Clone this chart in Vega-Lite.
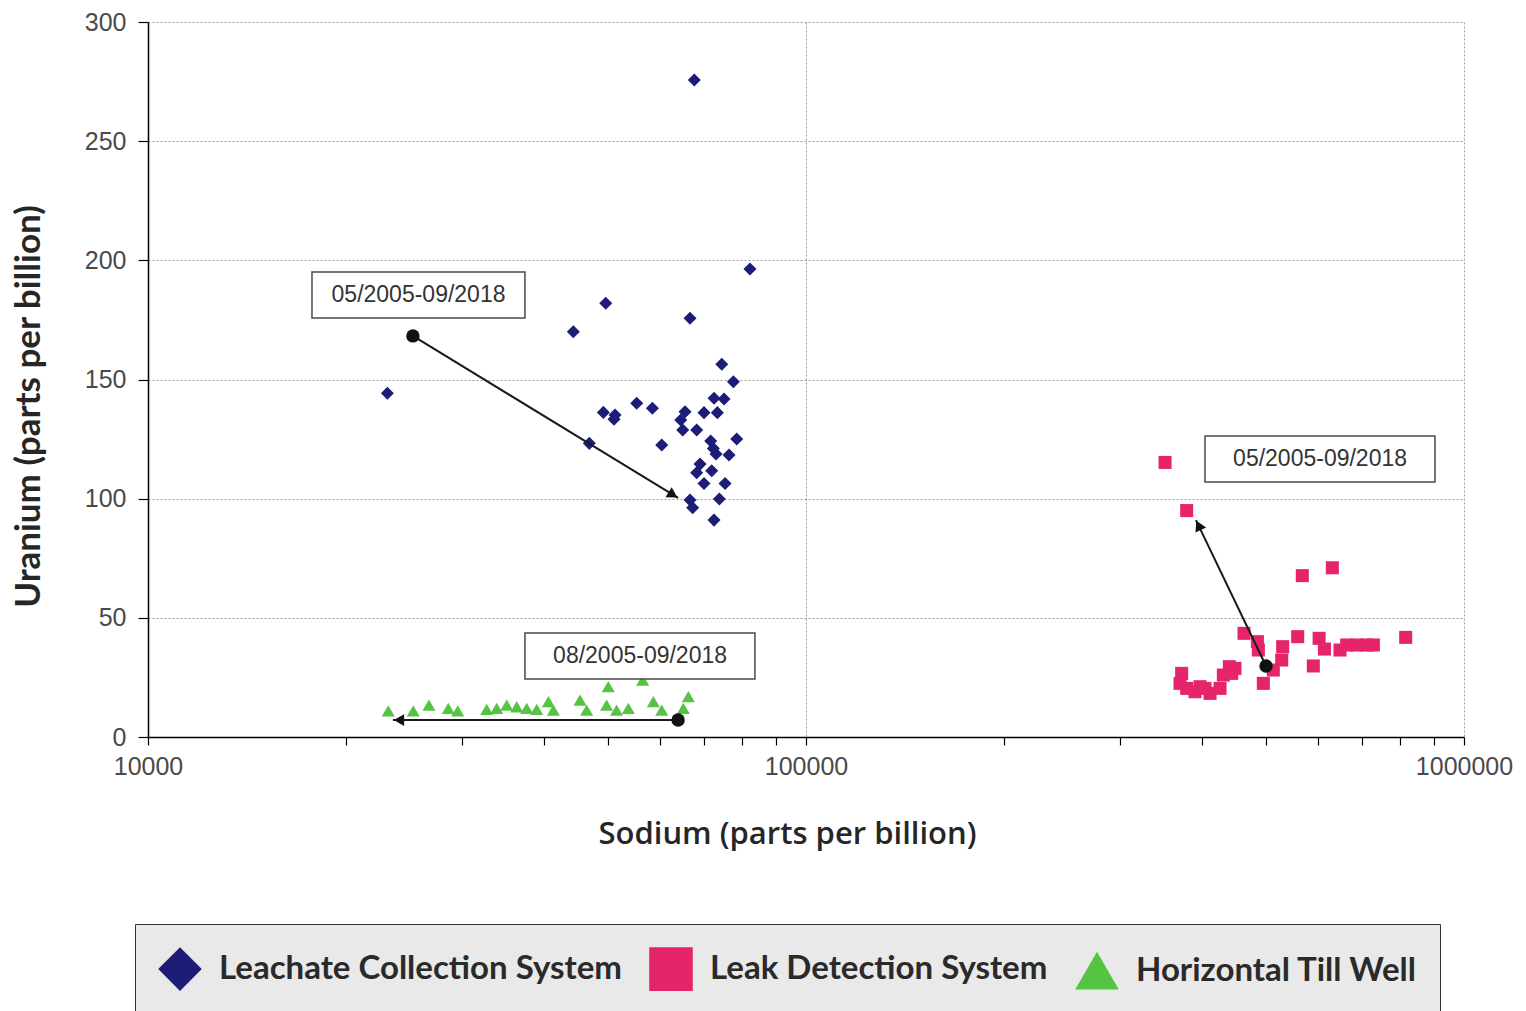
{
  "$schema": "https://vega.github.io/schema/vega-lite/v6.json",
  "width": 1316,
  "height": 715,
  "autosize": {"type": "none"},
  "padding": {"left": 148, "top": 22, "right": 62, "bottom": 274},
  "background": "white",
  "config": {
    "view": {"stroke": null},
    "axis": {
      "domainColor": "#000000",
      "domainWidth": 1.5,
      "tickColor": "#000000",
      "tickWidth": 1.2,
      "labelFont": "Liberation Sans",
      "labelFontSize": 25,
      "labelColor": "#4a4a4a",
      "gridColor": "#9a9a9a",
      "gridDash": [2, 2],
      "gridWidth": 1,
      "titleColor": "#262626"
    }
  },
  "datasets": {
    "points": [
      {"series": "Leachate Collection System", "sodium": 49620, "uranium": 182.0},
      {"series": "Leachate Collection System", "sodium": 44300, "uranium": 170.0},
      {"series": "Leachate Collection System", "sodium": 66640, "uranium": 175.7},
      {"series": "Leachate Collection System", "sodium": 23110, "uranium": 144.2},
      {"series": "Leachate Collection System", "sodium": 74470, "uranium": 156.4},
      {"series": "Leachate Collection System", "sodium": 77560, "uranium": 149.1},
      {"series": "Leachate Collection System", "sodium": 72480, "uranium": 142.1},
      {"series": "Leachate Collection System", "sodium": 75070, "uranium": 141.8},
      {"series": "Leachate Collection System", "sodium": 55300, "uranium": 140.0},
      {"series": "Leachate Collection System", "sodium": 58420, "uranium": 137.9},
      {"series": "Leachate Collection System", "sodium": 49210, "uranium": 136.2},
      {"series": "Leachate Collection System", "sodium": 51260, "uranium": 135.1},
      {"series": "Leachate Collection System", "sodium": 51080, "uranium": 133.3},
      {"series": "Leachate Collection System", "sodium": 65490, "uranium": 136.5},
      {"series": "Leachate Collection System", "sodium": 69980, "uranium": 136.1},
      {"series": "Leachate Collection System", "sodium": 73330, "uranium": 136.1},
      {"series": "Leachate Collection System", "sodium": 64510, "uranium": 133.0},
      {"series": "Leachate Collection System", "sodium": 64960, "uranium": 128.8},
      {"series": "Leachate Collection System", "sodium": 68210, "uranium": 128.8},
      {"series": "Leachate Collection System", "sodium": 78470, "uranium": 125.0},
      {"series": "Leachate Collection System", "sodium": 46850, "uranium": 123.2},
      {"series": "Leachate Collection System", "sodium": 60360, "uranium": 122.5},
      {"series": "Leachate Collection System", "sodium": 71640, "uranium": 124.2},
      {"series": "Leachate Collection System", "sodium": 72310, "uranium": 121.1},
      {"series": "Leachate Collection System", "sodium": 72990, "uranium": 118.7},
      {"series": "Leachate Collection System", "sodium": 76390, "uranium": 118.3},
      {"series": "Leachate Collection System", "sodium": 69020, "uranium": 114.5},
      {"series": "Leachate Collection System", "sodium": 68210, "uranium": 110.9},
      {"series": "Leachate Collection System", "sodium": 71900, "uranium": 111.7},
      {"series": "Leachate Collection System", "sodium": 69980, "uranium": 106.4},
      {"series": "Leachate Collection System", "sodium": 75330, "uranium": 106.4},
      {"series": "Leachate Collection System", "sodium": 66640, "uranium": 99.4},
      {"series": "Leachate Collection System", "sodium": 67260, "uranium": 96.2},
      {"series": "Leachate Collection System", "sodium": 73850, "uranium": 99.9},
      {"series": "Leachate Collection System", "sodium": 72480, "uranium": 91.0},
      {"series": "Leachate Collection System", "sodium": 67650, "uranium": 275.7},
      {"series": "Leachate Collection System", "sodium": 82190, "uranium": 196.4},
      {"series": "Leak Detection System", "sodium": 351300, "uranium": 115.2},
      {"series": "Leak Detection System", "sodium": 378900, "uranium": 95.0},
      {"series": "Leak Detection System", "sodium": 567900, "uranium": 67.7},
      {"series": "Leak Detection System", "sodium": 630800, "uranium": 71.0},
      {"series": "Leak Detection System", "sodium": 463100, "uranium": 43.5},
      {"series": "Leak Detection System", "sodium": 485300, "uranium": 40.0},
      {"series": "Leak Detection System", "sodium": 486900, "uranium": 36.5},
      {"series": "Leak Detection System", "sodium": 558800, "uranium": 42.1},
      {"series": "Leak Detection System", "sodium": 602300, "uranium": 41.4},
      {"series": "Leak Detection System", "sodium": 613600, "uranium": 36.9},
      {"series": "Leak Detection System", "sodium": 648000, "uranium": 36.5},
      {"series": "Leak Detection System", "sodium": 663300, "uranium": 38.6},
      {"series": "Leak Detection System", "sodium": 686900, "uranium": 38.6},
      {"series": "Leak Detection System", "sodium": 711400, "uranium": 38.6},
      {"series": "Leak Detection System", "sodium": 728200, "uranium": 38.6},
      {"series": "Leak Detection System", "sodium": 815400, "uranium": 41.8},
      {"series": "Leak Detection System", "sodium": 590200, "uranium": 29.8},
      {"series": "Leak Detection System", "sodium": 530200, "uranium": 37.9},
      {"series": "Leak Detection System", "sodium": 528400, "uranium": 32.3},
      {"series": "Leak Detection System", "sodium": 513100, "uranium": 28.1},
      {"series": "Leak Detection System", "sodium": 495500, "uranium": 22.5},
      {"series": "Leak Detection System", "sodium": 372300, "uranium": 26.7},
      {"series": "Leak Detection System", "sodium": 370200, "uranium": 22.5},
      {"series": "Leak Detection System", "sodium": 378900, "uranium": 20.4},
      {"series": "Leak Detection System", "sodium": 390100, "uranium": 19.0},
      {"series": "Leak Detection System", "sodium": 404000, "uranium": 20.4},
      {"series": "Leak Detection System", "sodium": 411200, "uranium": 18.3},
      {"series": "Leak Detection System", "sodium": 425800, "uranium": 20.4},
      {"series": "Leak Detection System", "sodium": 430800, "uranium": 26.0},
      {"series": "Leak Detection System", "sodium": 439900, "uranium": 29.5},
      {"series": "Leak Detection System", "sodium": 448700, "uranium": 28.8},
      {"series": "Leak Detection System", "sodium": 443600, "uranium": 26.7},
      {"series": "Leak Detection System", "sodium": 397000, "uranium": 21.1},
      {"series": "Horizontal Till Well", "sodium": 23180, "uranium": 11.0},
      {"series": "Horizontal Till Well", "sodium": 25300, "uranium": 11.0},
      {"series": "Horizontal Till Well", "sodium": 26730, "uranium": 13.4},
      {"series": "Horizontal Till Well", "sodium": 28600, "uranium": 12.0},
      {"series": "Horizontal Till Well", "sodium": 29560, "uranium": 11.0},
      {"series": "Horizontal Till Well", "sodium": 32710, "uranium": 11.6},
      {"series": "Horizontal Till Well", "sodium": 33880, "uranium": 12.0},
      {"series": "Horizontal Till Well", "sodium": 35090, "uranium": 13.4},
      {"series": "Horizontal Till Well", "sodium": 36340, "uranium": 12.7},
      {"series": "Horizontal Till Well", "sodium": 37630, "uranium": 12.0},
      {"series": "Horizontal Till Well", "sodium": 38970, "uranium": 11.6},
      {"series": "Horizontal Till Well", "sodium": 40600, "uranium": 14.8},
      {"series": "Horizontal Till Well", "sodium": 41310, "uranium": 11.3},
      {"series": "Horizontal Till Well", "sodium": 45350, "uranium": 15.5},
      {"series": "Horizontal Till Well", "sodium": 46410, "uranium": 11.3},
      {"series": "Horizontal Till Well", "sodium": 50060, "uranium": 21.1},
      {"series": "Horizontal Till Well", "sodium": 49770, "uranium": 13.4},
      {"series": "Horizontal Till Well", "sodium": 51540, "uranium": 11.3},
      {"series": "Horizontal Till Well", "sodium": 53700, "uranium": 12.0},
      {"series": "Horizontal Till Well", "sodium": 56470, "uranium": 23.9},
      {"series": "Horizontal Till Well", "sodium": 58620, "uranium": 14.8},
      {"series": "Horizontal Till Well", "sodium": 60360, "uranium": 11.3},
      {"series": "Horizontal Till Well", "sodium": 66250, "uranium": 16.9},
      {"series": "Horizontal Till Well", "sodium": 65100, "uranium": 12.0}
    ],
    "arrows": [
      {"series": "Leachate Collection System", "fromX": 25270, "fromY": 168.3, "toX": 63920, "toY": 100.3, "headX": 62780, "headY": 101.6},
      {"series": "Leak Detection System", "fromX": 500200, "fromY": 29.8, "toX": 391400, "toY": 91.0, "headX": 395000, "headY": 88.8},
      {"series": "Horizontal Till Well", "fromX": 63920, "fromY": 7.1, "toX": 23560, "toY": 7.1, "headX": 24070, "headY": 7.1}
    ],
    "labels": [
      {"series": "Leachate Collection System", "left": 17750, "right": 37400, "top": 195.1, "bottom": 175.8, "cx": 25770, "cy": 185.5, "text": "05/2005-09/2018"},
      {"series": "Leak Detection System", "left": 404000, "right": 903400, "top": 126.3, "bottom": 107.0, "cx": 604300, "cy": 116.6, "text": "05/2005-09/2018"},
      {"series": "Horizontal Till Well", "left": 37400, "right": 83640, "top": 43.6, "bottom": 24.3, "cx": 55950, "cy": 34.0, "text": "08/2005-09/2018"}
    ]
  },
  "layer": [
    {
      "data": {"name": "points"},
      "mark": {"type": "point", "filled": true, "opacity": 1, "size": 170},
      "encoding": {
        "x": {
          "field": "sodium", "type": "quantitative",
          "scale": {"type": "log", "domain": [10000, 1000000], "nice": false},
          "axis": {
            "title": "Sodium (parts per billion)",
            "titleFont": "Open Sans", "titleFontSize": 31, "titleFontWeight": 600,
            "titlePadding": 40, "titleX": 639,
            "values": [10000, 20000, 30000, 40000, 50000, 60000, 70000, 80000, 90000, 100000, 200000, 300000, 400000, 500000, 600000, 700000, 800000, 900000, 1000000],
            "labelExpr": "datum.value == 10000 || datum.value == 100000 || datum.value == 1000000 ? format(datum.value, 'd') : ''",
            "labelOverlap": false, "labelFlush": false, "labelPadding": 9,
            "tickSize": 8,
            "gridOpacity": {"condition": {"test": "datum.value == 100000 || datum.value == 1000000", "value": 1}, "value": 0}
          }
        },
        "y": {
          "field": "uranium", "type": "quantitative",
          "scale": {"domain": [0, 300], "nice": false},
          "axis": {
            "title": "Uranium (parts per billion)",
            "titleFont": "Lato", "titleFontSize": 35, "titleFontWeight": "bold",
            "titlePadding": 38, "titleY": 384,
            "values": [0, 50, 100, 150, 200, 250, 300],
            "tickSize": 10, "labelPadding": 12
          }
        },
        "color": {
          "field": "series", "type": "nominal",
          "scale": {"domain": ["Leachate Collection System", "Leak Detection System", "Horizontal Till Well"], "range": ["#1d1d78", "#e5246b", "#55c443"]},
          "legend": {
            "title": null, "orient": "none", "legendX": -13, "legendY": 902, "direction": "horizontal",
            "fillColor": "#e9e9e9", "strokeColor": "#333333", "padding": 22,
            "symbolSize": 1900, "symbolOpacity": 1,
            "labelFont": "Lato", "labelFontSize": 33, "labelFontWeight": "bold", "labelColor": "#2a2a2a",
            "labelOffset": 16, "columnPadding": 24, "labelLimit": 800
          }
        },
        "shape": {
          "field": "series", "type": "nominal",
          "scale": {"domain": ["Leachate Collection System", "Leak Detection System", "Horizontal Till Well"], "range": ["diamond", "square", "triangle-up"]},
          "legend": {
            "title": null, "orient": "none", "legendX": -13, "legendY": 902, "direction": "horizontal",
            "fillColor": "#e9e9e9", "strokeColor": "#333333", "padding": 22,
            "symbolSize": 1900, "symbolOpacity": 1,
            "labelFont": "Lato", "labelFontSize": 33, "labelFontWeight": "bold", "labelColor": "#2a2a2a",
            "labelOffset": 16, "columnPadding": 24, "labelLimit": 800
          }
        }
      }
    },
    {
      "data": {"name": "arrows"},
      "mark": {"type": "rule", "color": "#1a1a1a", "strokeWidth": 2},
      "encoding": {
        "x": {"field": "fromX", "type": "quantitative"},
        "y": {"field": "fromY", "type": "quantitative"},
        "x2": {"field": "toX"},
        "y2": {"field": "toY"}
      }
    },
    {
      "data": {"name": "arrows"},
      "mark": {"type": "point", "filled": true, "color": "#111111", "size": 180, "shape": "circle", "opacity": 1},
      "encoding": {
        "x": {"field": "fromX", "type": "quantitative"},
        "y": {"field": "fromY", "type": "quantitative"}
      }
    },
    {
      "data": {"name": "arrows"},
      "transform": [{"filter": "datum.series == 'Leachate Collection System'"}],
      "mark": {"type": "point", "filled": true, "color": "#111111", "size": 140, "shape": "triangle-right", "opacity": 1, "angle": 31.4},
      "encoding": {
        "x": {"field": "headX", "type": "quantitative"},
        "y": {"field": "headY", "type": "quantitative"}
      }
    },
    {
      "data": {"name": "arrows"},
      "transform": [{"filter": "datum.series == 'Leak Detection System'"}],
      "mark": {"type": "point", "filled": true, "color": "#111111", "size": 140, "shape": "triangle-right", "opacity": 1, "angle": 244.4},
      "encoding": {
        "x": {"field": "headX", "type": "quantitative"},
        "y": {"field": "headY", "type": "quantitative"}
      }
    },
    {
      "data": {"name": "arrows"},
      "transform": [{"filter": "datum.series == 'Horizontal Till Well'"}],
      "mark": {"type": "point", "filled": true, "color": "#111111", "size": 140, "shape": "triangle-left", "opacity": 1},
      "encoding": {
        "x": {"field": "headX", "type": "quantitative"},
        "y": {"field": "headY", "type": "quantitative"}
      }
    },
    {
      "data": {"name": "labels"},
      "mark": {"type": "rect", "fill": "#ffffff", "stroke": "#4a4a4a", "strokeWidth": 1.5},
      "encoding": {
        "x": {"field": "left", "type": "quantitative"},
        "x2": {"field": "right"},
        "y": {"field": "top", "type": "quantitative"},
        "y2": {"field": "bottom"}
      }
    },
    {
      "data": {"name": "labels"},
      "mark": {"type": "text", "font": "Liberation Sans", "fontSize": 23, "color": "#333333", "align": "center", "baseline": "middle"},
      "encoding": {
        "x": {"field": "cx", "type": "quantitative"},
        "y": {"field": "cy", "type": "quantitative"},
        "text": {"field": "text"}
      }
    }
  ]
}
